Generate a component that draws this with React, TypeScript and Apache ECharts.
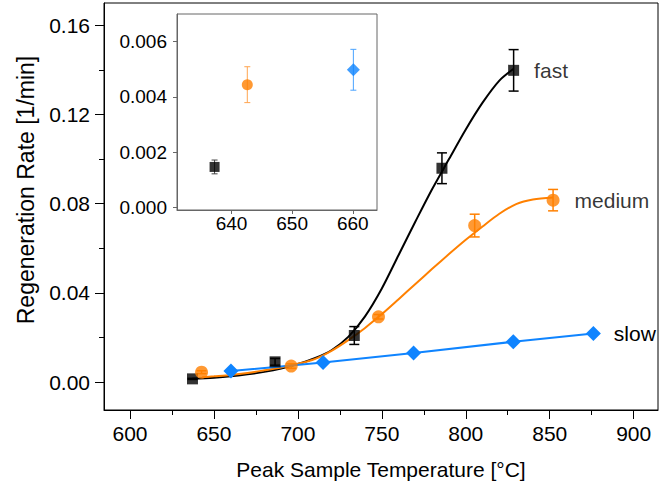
import React, { useEffect, useRef } from "react";
import * as echarts from "echarts";

// ---------- data ----------
const fastX = [637.2, 686.4, 733.6, 785.8, 828.5];
const fastY = [0.00146, 0.0091, 0.0209, 0.0959, 0.1398];
const fastErr = [0.00025, 0.0015, 0.004, 0.0069, 0.0093];

const mediumX = [642.6, 696.0, 748.0, 805.3, 852.0];
const mediumY = [0.00444, 0.0072, 0.0293, 0.0702, 0.0816];
const mediumErr = [0.00065, 0.001, 0.001, 0.0051, 0.0048];

const slowX = [660.1, 715.0, 768.9, 828.3, 876.0];
const slowY = [0.00498, 0.0088, 0.0131, 0.0181, 0.0218];
const slowErr = [0.00074, 0.001, 0.001, 0.001, 0.001];

// fitted curves
const fastFitX = [637, 650, 660, 670, 680, 690, 700, 710, 720, 730, 740, 750, 760, 770, 780, 790, 800, 810, 820, 828.5];
const fastFitY = [0.0015, 0.002, 0.0026, 0.0035, 0.0046, 0.0061, 0.0081, 0.0107, 0.0143, 0.0203, 0.0295, 0.042, 0.057, 0.072, 0.0866, 0.1, 0.1133, 0.1253, 0.1352, 0.1405];

const mediumFitX = [643, 650, 660, 670, 680, 690, 700, 710, 720, 730, 740, 750, 760, 770, 780, 790, 800, 810, 820, 830, 840, 852];
const mediumFitY = [0.0022, 0.0026, 0.0032, 0.0041, 0.0053, 0.0066, 0.0082, 0.0103, 0.014, 0.0188, 0.0243, 0.0305, 0.0372, 0.044, 0.0508, 0.0574, 0.0638, 0.0698, 0.0755, 0.0798, 0.0819, 0.0828];

const xMajorTicks = [600, 650, 700, 750, 800, 850, 900];
const xMinorTicks = [625, 675, 725, 775, 825, 875];
const yMajorTicks = [0, 0.04, 0.08, 0.12, 0.16];
const yMinorTicks = [0.02, 0.06, 0.1, 0.14];

const insetXTicks = [640, 650, 660];
const insetYTicks = [0, 0.002, 0.004, 0.006];

const seriesNames = ["fast", "medium", "slow"];

// ---------- styles ----------
const FONT = "Liberation Sans, Arial, sans-serif";
const BLACK = "#000000";
const ORANGE = "#FF8000";
const BLUE = "#0F84FF";

const zip = (xs: number[], ys: number[]) => xs.map((x, i) => [x, ys[i]]);
const zip3 = (xs: number[], ys: number[], es: number[]) => xs.map((x, i) => [x, ys[i], es[i]]);

function errorRender(color: string, lineWidth: number, capHalf: number) {
  return (params: any, api: any) => {
    const x = api.value(0);
    const y = api.value(1);
    const e = api.value(2);
    const top = api.coord([x, y + e]);
    const bot = api.coord([x, y - e]);
    const style = { stroke: color, lineWidth };
    return {
      type: "group",
      children: [
        { type: "line", shape: { x1: top[0], y1: top[1], x2: bot[0], y2: bot[1] }, style },
        { type: "line", shape: { x1: top[0] - capHalf, y1: top[1], x2: top[0] + capHalf, y2: top[1] }, style },
        { type: "line", shape: { x1: bot[0] - capHalf, y1: bot[1], x2: bot[0] + capHalf, y2: bot[1] }, style },
      ],
    };
  };
}

function withEndLabel(points: number[][], name: string, distance: number) {
  return points.map((p, i) =>
    i === points.length - 1
      ? {
          value: p,
          label: {
            show: true,
            position: "right",
            distance,
            formatter: name,
            color: BLACK,
            fontSize: 21,
            fontFamily: FONT,
          },
        }
      : { value: p }
  );
}

export default function App() {
  const ref = useRef<HTMLDivElement>(null);

  useEffect(() => {
    if (!ref.current) return;
    const chart = echarts.init(ref.current, undefined, { renderer: "svg" });

    const insetGray = "#666666";

    const option: any = {
      animation: false,
      backgroundColor: "#ffffff",
      textStyle: { fontFamily: FONT },
      grid: [
        { left: 104, top: 3, width: 554, height: 407, show: true, borderColor: BLACK, borderWidth: 1, backgroundColor: "transparent" },
        { left: 177, top: 14, width: 200, height: 196, show: true, borderColor: insetGray, borderWidth: 1, backgroundColor: "#ffffff", z: 5 },
      ],
      xAxis: [
        {
          type: "value",
          gridIndex: 0,
          min: 584.5,
          max: 914.5,
          position: "bottom",
          axisLine: { show: true, onZero: false, lineStyle: { color: BLACK, width: 1 } },
          axisTick: { show: true, inside: false, length: 9, customValues: xMajorTicks, lineStyle: { color: BLACK } },
          axisLabel: { show: true, customValues: xMajorTicks, fontSize: 21, color: BLACK, margin: 13, fontFamily: FONT },
          splitLine: { show: false },
          name: "Peak Sample Temperature [°C]",
          nameLocation: "middle",
          nameGap: 49,
          nameTextStyle: { fontSize: 21, color: BLACK, fontFamily: FONT },
        },
        {
          type: "value",
          gridIndex: 0,
          min: 584.5,
          max: 914.5,
          position: "bottom",
          offset: 0,
          axisLine: { show: false, onZero: false },
          axisTick: { show: true, inside: false, length: 5, customValues: xMinorTicks, lineStyle: { color: BLACK } },
          axisLabel: { show: false },
          splitLine: { show: false },
        },
        {
          type: "value",
          gridIndex: 1,
          min: 631,
          max: 664,
          position: "bottom",
          axisLine: { show: true, onZero: false, lineStyle: { color: insetGray, width: 1 } },
          axisTick: { show: true, inside: false, length: 4, customValues: insetXTicks, lineStyle: { color: insetGray } },
          axisLabel: { show: true, customValues: insetXTicks, fontSize: 19, color: BLACK, margin: 4, fontFamily: FONT },
          splitLine: { show: false },
          z: 6,
        },
      ],
      yAxis: [
        {
          type: "value",
          gridIndex: 0,
          min: -0.0125,
          max: 0.17,
          position: "left",
          axisLine: { show: true, onZero: false, lineStyle: { color: BLACK, width: 1 } },
          axisTick: { show: true, inside: false, length: 9, customValues: yMajorTicks, lineStyle: { color: BLACK } },
          axisLabel: {
            show: true,
            customValues: yMajorTicks,
            fontSize: 21,
            color: BLACK,
            margin: 14,
            fontFamily: FONT,
            formatter: (v: number) => v.toFixed(2),
          },
          splitLine: { show: false },
        },
        {
          type: "value",
          gridIndex: 0,
          min: -0.0125,
          max: 0.17,
          position: "left",
          offset: 0,
          axisLine: { show: false, onZero: false },
          axisTick: { show: true, inside: false, length: 5, customValues: yMinorTicks, lineStyle: { color: BLACK } },
          axisLabel: { show: false },
          splitLine: { show: false },
        },
        {
          type: "value",
          gridIndex: 1,
          min: -0.0001,
          max: 0.007,
          position: "left",
          axisLine: { show: true, onZero: false, lineStyle: { color: insetGray, width: 1 } },
          axisTick: { show: true, inside: false, length: 4, customValues: insetYTicks, lineStyle: { color: insetGray } },
          axisLabel: {
            show: true,
            customValues: insetYTicks,
            fontSize: 19,
            color: BLACK,
            margin: 10,
            fontFamily: FONT,
            formatter: (v: number) => v.toFixed(3),
          },
          splitLine: { show: false },
          z: 6,
        },
      ],
      graphic: [
        {
          type: "text",
          x: 26,
          y: 190,
          rotation: Math.PI / 2,
          style: {
            text: "Regeneration Rate [1/min]",
            fontSize: 23,
            fontFamily: FONT,
            fill: BLACK,
            align: "center",
            verticalAlign: "middle",
          },
        },
      ],
      series: [
        // fitted curves
        {
          type: "line",
          xAxisIndex: 0,
          yAxisIndex: 0,
          data: zip(fastFitX, fastFitY),
          smooth: 0.3,
          showSymbol: false,
          symbol: "none",
          lineStyle: { color: BLACK, width: 2 },
          z: 2,
        },
        {
          type: "line",
          xAxisIndex: 0,
          yAxisIndex: 0,
          data: zip(mediumFitX, mediumFitY),
          smooth: 0.3,
          showSymbol: false,
          symbol: "none",
          lineStyle: { color: ORANGE, width: 2 },
          z: 2,
        },
        // slow line with diamonds
        {
          name: seriesNames[2],
          type: "line",
          xAxisIndex: 0,
          yAxisIndex: 0,
          data: withEndLabel(zip(slowX, slowY), seriesNames[2], 13),
          symbol: "diamond",
          symbolSize: [15, 15],
          showSymbol: true,
          itemStyle: { color: BLUE },
          lineStyle: { color: BLUE, width: 2 },
          z: 4,
        },
        // error bars main
        {
          type: "custom",
          xAxisIndex: 0,
          yAxisIndex: 0,
          data: zip3(fastX, fastY, fastErr),
          encode: { x: 0, y: 1 },
          renderItem: errorRender(BLACK, 1.5, 5),
          z: 3,
        },
        {
          type: "custom",
          xAxisIndex: 0,
          yAxisIndex: 0,
          data: zip3(mediumX, mediumY, mediumErr),
          encode: { x: 0, y: 1 },
          renderItem: errorRender(ORANGE, 1.5, 5),
          z: 3,
        },
        // markers main
        {
          name: seriesNames[0],
          type: "scatter",
          xAxisIndex: 0,
          yAxisIndex: 0,
          data: withEndLabel(zip(fastX, fastY), seriesNames[0], 15),
          symbol: "rect",
          symbolSize: 11,
          itemStyle: { color: BLACK },
          z: 4,
        },
        {
          name: seriesNames[1],
          type: "scatter",
          xAxisIndex: 0,
          yAxisIndex: 0,
          data: withEndLabel(zip(mediumX, mediumY), seriesNames[1], 15),
          symbol: "circle",
          symbolSize: 13,
          itemStyle: { color: ORANGE },
          z: 4,
        },
        // inset error bars
        {
          type: "custom",
          xAxisIndex: 2,
          yAxisIndex: 2,
          data: [[fastX[0], fastY[0], fastErr[0]]],
          encode: { x: 0, y: 1 },
          renderItem: errorRender("#444444", 1, 3),
          z: 7,
        },
        {
          type: "custom",
          xAxisIndex: 2,
          yAxisIndex: 2,
          data: [[mediumX[0], mediumY[0], mediumErr[0]]],
          encode: { x: 0, y: 1 },
          renderItem: errorRender("#FFA550", 1, 3),
          z: 7,
        },
        {
          type: "custom",
          xAxisIndex: 2,
          yAxisIndex: 2,
          data: [[slowX[0], slowY[0], slowErr[0]]],
          encode: { x: 0, y: 1 },
          renderItem: errorRender("#4AA3FF", 1, 3),
          z: 7,
        },
        // inset markers
        {
          type: "scatter",
          xAxisIndex: 2,
          yAxisIndex: 2,
          data: [[fastX[0], fastY[0]]],
          symbol: "rect",
          symbolSize: 10,
          itemStyle: { color: BLACK },
          z: 8,
        },
        {
          type: "scatter",
          xAxisIndex: 2,
          yAxisIndex: 2,
          data: [[mediumX[0], mediumY[0]]],
          symbol: "circle",
          symbolSize: 11,
          itemStyle: { color: ORANGE },
          z: 8,
        },
        {
          type: "scatter",
          xAxisIndex: 2,
          yAxisIndex: 2,
          data: [[slowX[0], slowY[0]]],
          symbol: "diamond",
          symbolSize: [13, 13],
          itemStyle: { color: BLUE },
          z: 8,
        },
      ],
    };

    chart.setOption(option);
    return () => chart.dispose();
  }, []);

  return (
    <div
      ref={ref}
      style={{ position: "fixed", left: 0, top: 0, width: 670, height: 489, background: "#fff" }}
    />
  );
}
